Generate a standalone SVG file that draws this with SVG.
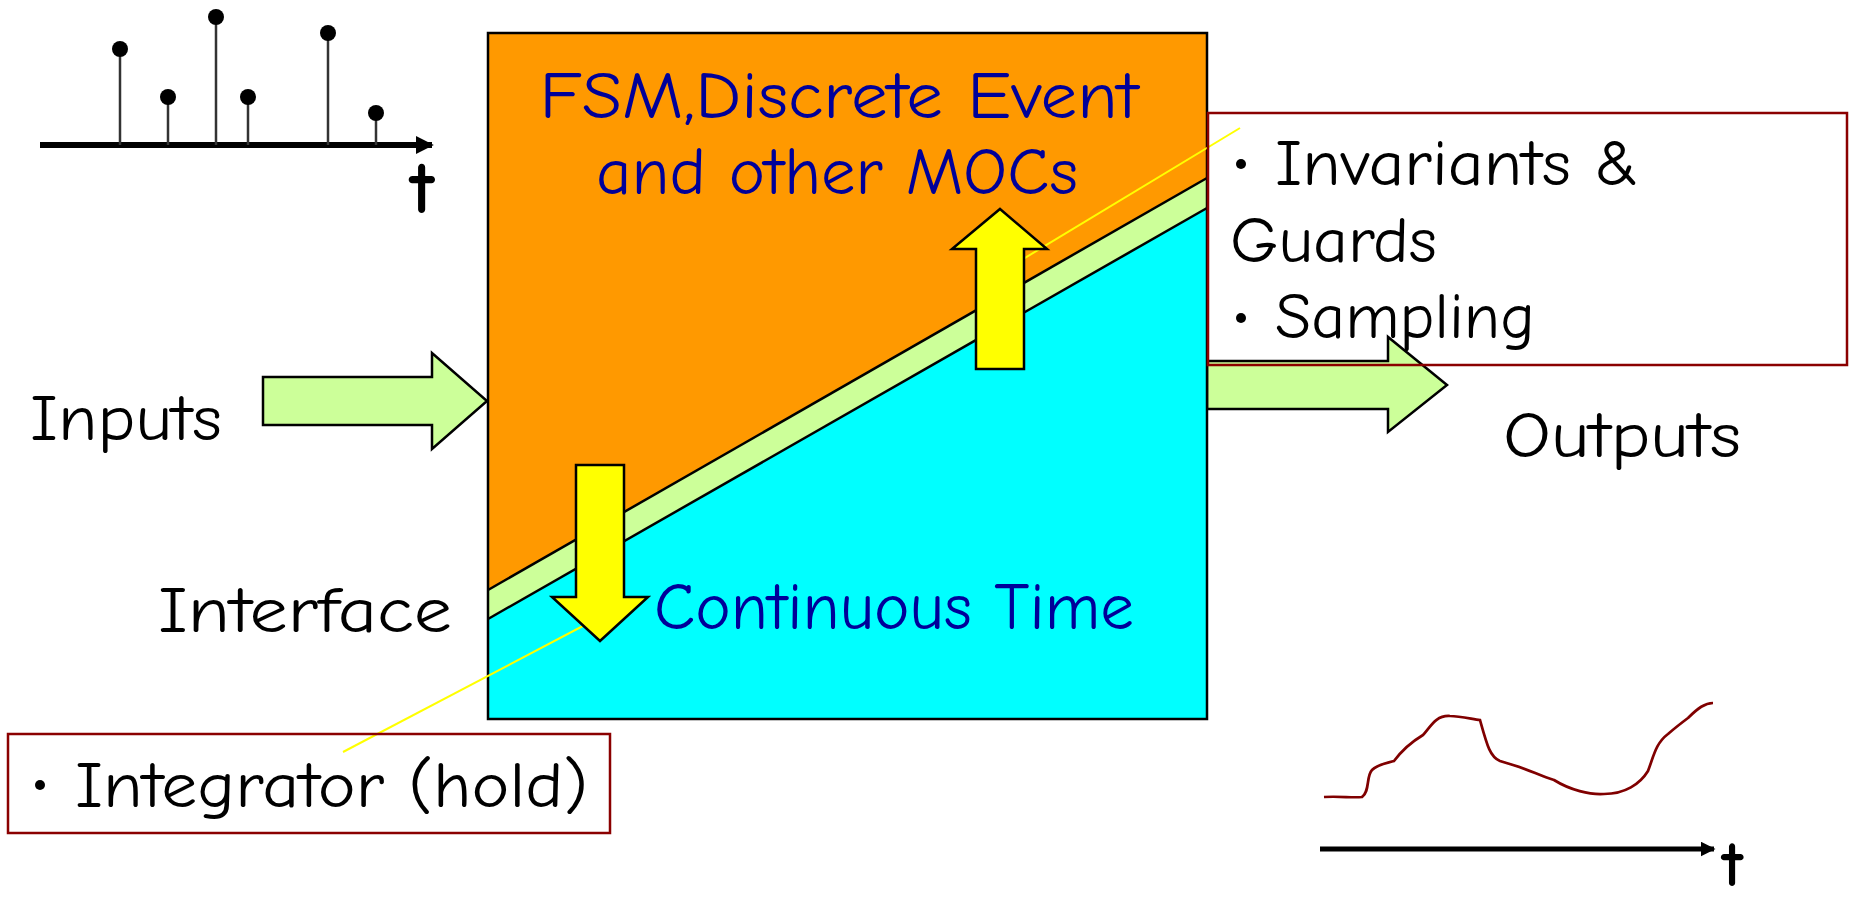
<svg xmlns="http://www.w3.org/2000/svg" width="1857" height="901" viewBox="0 0 1857 901">
<defs>
<style>
text{font-family:"Comic Sans MS","Comic Neue","DejaVu Sans",sans-serif;font-size:64px;fill:#000}
.blue{fill:#000099;font-size:66px}
.tl{font-size:74px}
.edge{stroke:#000;stroke-width:2.5;fill:none}
.big{stroke:#000;stroke-width:2.5}
.note{fill:none;stroke:#8B0000;stroke-width:2.5}
.lead{stroke:#FFFF00;stroke-width:2}
.stem{stroke:#333;stroke-width:2.5}
</style>
<marker id="ah" viewBox="0 0 10 10" refX="9" refY="5" markerWidth="3" markerHeight="3" orient="auto" markerUnits="strokeWidth">
<path d="M0,0 L10,5 L0,10 z" fill="#000"/>
</marker>
</defs>
<rect width="1857" height="901" fill="#fff"/>

<g id="discrete-signal">
<line x1="40" y1="145" x2="432" y2="145" stroke="#000" stroke-width="6" marker-end="url(#ah)"/>
<line class="stem" x1="120" y1="145" x2="120" y2="49"/><circle cx="120" cy="49" r="8"/>
<line class="stem" x1="168" y1="145" x2="168" y2="97"/><circle cx="168" cy="97" r="8"/>
<line class="stem" x1="216" y1="145" x2="216" y2="17"/><circle cx="216" cy="17" r="8"/>
<line class="stem" x1="248" y1="145" x2="248" y2="97"/><circle cx="248" cy="97" r="8"/>
<line class="stem" x1="328" y1="145" x2="328" y2="33"/><circle cx="328" cy="33" r="8"/>
<line class="stem" x1="376" y1="145" x2="376" y2="113"/><circle cx="376" cy="113" r="8"/>
<text class="tl" x="410" y="213" font-weight="bold">t</text>
</g>

<g id="connectors">
<polygon class="big" fill="#CCFF99" points="263,377 432,377 432,353 487,401 432,449 432,425 263,425"/>
<polygon class="big" fill="#CCFF99" points="1207,361 1388,361 1388,337 1447,385 1388,432 1388,409 1207,409"/>
</g>

<g id="main-box">
<rect x="488" y="33" width="719" height="686" fill="#00FFFF"/>
<polygon fill="#FF9900" points="488,33 1207,33 1207,178 488,590"/>
<polygon fill="#CCFF99" points="488,590 1207,178 1207,208 488,619"/>
<line class="edge" x1="488" y1="590" x2="1207" y2="178"/>
<line class="edge" x1="488" y1="619" x2="1207" y2="208"/>
<rect class="edge" x="488" y="33" width="719" height="686"/>
<text class="blue" x="839" y="118" text-anchor="middle" textLength="599" lengthAdjust="spacingAndGlyphs">FSM,Discrete Event</text>
<text class="blue" x="837" y="194" text-anchor="middle" textLength="482" lengthAdjust="spacingAndGlyphs">and other MOCs</text>
<text class="blue" x="654" y="629" textLength="480" lengthAdjust="spacingAndGlyphs">Continuous Time</text>
</g>

<g id="leaders">
<line class="lead" x1="1000" y1="273" x2="1240" y2="128"/>
<line class="lead" x1="600" y1="617" x2="343" y2="752"/>
</g>

<g id="up-arrow">
<polygon class="big" fill="#FFFF00" points="1000,209 1047,249 1024,249 1024,369 976,369 976,249 952,249"/>
</g>
<g id="down-arrow">
<polygon class="big" fill="#FFFF00" points="576,465 624,465 624,597 648,597 600,641 552,597 576,597"/>
</g>

<g id="inputs-label"><text x="30" y="440" textLength="192" lengthAdjust="spacingAndGlyphs">Inputs</text></g>
<g id="interface-label"><text x="158" y="632" textLength="294" lengthAdjust="spacingAndGlyphs">Interface</text></g>
<g id="outputs-label"><text x="1503" y="457" textLength="238" lengthAdjust="spacingAndGlyphs">Outputs</text></g>

<g id="note-discrete">
<rect class="note" x="1208" y="113" width="639" height="252"/>
<circle cx="1241" cy="164" r="5"/>
<text x="1275" y="185" textLength="364" lengthAdjust="spacingAndGlyphs">Invariants &amp;</text>
<text x="1230" y="262" textLength="207" lengthAdjust="spacingAndGlyphs">Guards</text>
<circle cx="1241" cy="318" r="5"/>
<text x="1275" y="338" textLength="260" lengthAdjust="spacingAndGlyphs">Sampling</text>
</g>

<g id="note-continuous">
<rect class="note" x="8" y="734" width="602" height="99"/>
<circle cx="40" cy="785" r="5"/>
<text x="75" y="807" textLength="513" lengthAdjust="spacingAndGlyphs">Integrator (hold)</text>
</g>

<g id="continuous-signal">
<path d="M1324,797 C1340,796 1352,798 1362,797 C1370,792 1366,776 1372,770 C1378,764 1388,763 1394,761 C1400,753 1408,744 1423,735 C1430,728 1435,715 1450,716 C1460,716 1472,719 1480,720 C1487,745 1490,757 1500,761 L1513,765 C1530,770 1540,776 1554,780 C1570,790 1590,795 1604,794 C1625,794 1640,784 1648,771 C1654,755 1656,743 1668,734 C1676,727 1680,724 1688,718 C1698,708 1705,703 1713,703" fill="none" stroke="#800000" stroke-width="2.7"/>
<line x1="1320" y1="849" x2="1714" y2="849" stroke="#000" stroke-width="5" marker-end="url(#ah)"/>
<text x="1722" y="886" font-size="58" font-weight="bold">t</text>
</g>
</svg>
